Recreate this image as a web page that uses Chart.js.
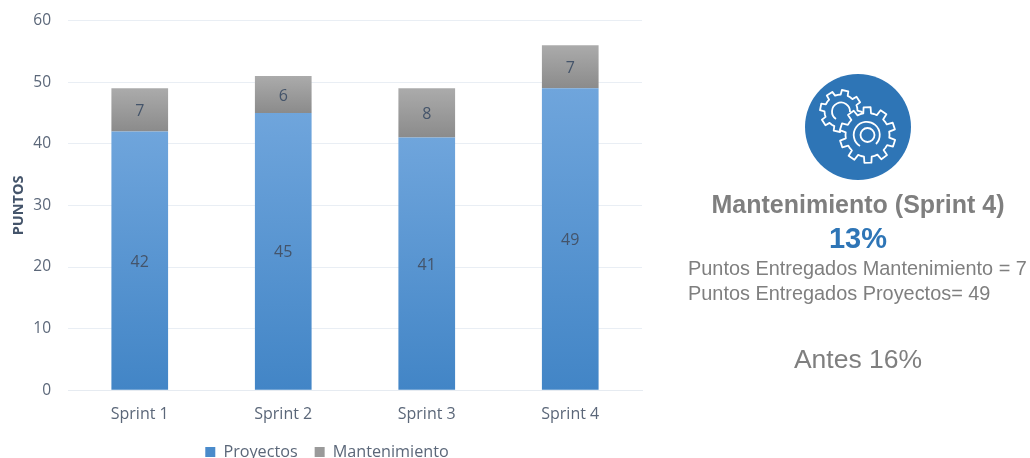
<!DOCTYPE html>
<html>
<head>
<meta charset="utf-8">
<script src="https://cdn.jsdelivr.net/npm/chart.js@4"></script>
<style>
    html, body { margin: 0; padding: 0; background: #fff; width: 1030px; height: 458px; overflow: hidden; }
    #chart_box { position: absolute; left: 0; top: 0; width: 652px; height: 470px; filter: blur(0.5px); }
    .side { position: absolute; font-family: "Liberation Sans", Arial, sans-serif; color: #7f7f7f; white-space: nowrap; filter: blur(0.5px); }
    .mid { left: 658px; width: 400px; text-align: center; }
    #icon { position: absolute; left: 805px; top: 74px; filter: blur(0.5px); }
</style>
</head>
<body>
<div id="chart_box"><canvas id="graph"></canvas></div>

<svg id="icon" width="106" height="106" viewBox="0 0 106 106"></svg>

<div class="side mid" style="top:190px;font-size:25px;font-weight:bold;">Mantenimiento (Sprint 4)</div>
<div class="side mid" style="top:222px;font-size:29px;font-weight:bold;color:#2e75b6;">13%</div>
<div class="side" style="left:688px;top:257px;font-size:19.9px;">Puntos Entregados Mantenimiento = 7</div>
<div class="side" style="left:688px;top:282px;font-size:19.9px;">Puntos Entregados Proyectos= 49</div>
<div class="side mid" style="top:344px;font-size:26.5px;">Antes 16%</div>

<script>
const sprints = [`Sprint 1`, `Sprint 2`, `Sprint 3`, `Sprint 4`]
const proyectos = [42, 45, 41, 49]
const mantenimiento = [7, 6, 8, 7]
const y_ticks = [0, 10, 20, 30, 40, 50, 60]

const text_color = `#5b6779`
const label_font = `"Open Sans", sans-serif`

// same gradient on each bar, from its top to its bottom
function bar_gradient(top_color, bottom_color) {
    return function (context) {
        const chart = context.chart
        if (!chart.chartArea || context.type !== `data`) return bottom_color
        const y = chart.scales.y
        const stacked = context.dataset.stack_base ? context.dataset.stack_base[context.dataIndex] : 0
        const gradient = chart.ctx.createLinearGradient(0, y.getPixelForValue(stacked + context.raw), 0, y.getPixelForValue(stacked))
        gradient.addColorStop(0, top_color)
        gradient.addColorStop(1, bottom_color)
        return gradient
    }
}

const bar_labels = {
    id: `bar_labels`,
    afterDatasetsDraw(chart) {
        const ctx = chart.ctx
        ctx.save()
        ctx.font = `16px ${label_font}`
        ctx.fillStyle = `#44546a`
        ctx.textAlign = `center`
        ctx.textBaseline = `middle`
        chart.data.datasets.forEach((dataset, i) => {
            chart.getDatasetMeta(i).data.forEach((bar, j) => {
                ctx.fillText(dataset.data[j], bar.x, (bar.y + bar.base) / 2 + 1.5)
            })
        })
        ctx.restore()
    }
}

// legend sits a little right of the middle of the plot
const legend_nudge = {
    id: `legend_nudge`,
    afterLayout(chart) {
        chart.legend.left += 6
        chart.legend.right += 6
    }
}

new Chart(document.getElementById(`graph`), {
    type: `bar`,
    data: {
        labels: sprints,
        datasets: [{
            label: `Proyectos`,
            data: proyectos,
            backgroundColor: bar_gradient(`#6fa5dc`, `#4285c6`),
            legend_color: `#4a8bcb`
        }, {
            label: `Mantenimiento`,
            data: mantenimiento,
            stack_base: proyectos,
            backgroundColor: bar_gradient(`#ababab`, `#8b8b8b`),
            legend_color: `#9a9a9a`
        }]
    },
    options: {
        responsive: true,
        maintainAspectRatio: false,
        animation: false,
        layout: { padding: { top: 20.5, right: 10, bottom: 0, left: 0 } },
        datasets: { bar: { barPercentage: 0.79, categoryPercentage: 0.5 } },
        scales: {
            x: {
                stacked: true,
                grid: { display: false },
                border: { color: `#e6ebf1`, width: 1 },
                ticks: { color: text_color, font: { family: label_font, size: 16 }, padding: 6.5 },
                afterFit(scale) { scale.height = 36.5 }
            },
            y: {
                stacked: true,
                min: 0,
                max: 60,
                afterBuildTicks(scale) { scale.ticks = y_ticks.map(value => ({ value })) },
                grid: { color: `#e9eef4`, drawTicks: false },
                border: { display: false },
                ticks: { color: text_color, font: { family: label_font, size: 15.5 }, padding: 17 },
                title: {
                    display: true,
                    text: `PUNTOS`,
                    color: `#44546a`,
                    font: { family: label_font, size: 14.5, weight: `bold` },
                    padding: { top: 10, bottom: 0 }
                },
                afterFit(scale) {
                    scale.width = 68
                    // the top and bottom of the plot come from layout.padding and the x axis
                    scale.paddingTop = 0
                    scale.paddingBottom = 0
                }
            }
        },
        plugins: {
            tooltip: { enabled: false },
            legend: {
                position: `bottom`,
                labels: {
                    color: text_color,
                    font: { family: label_font, size: 16.2 },
                    boxWidth: 10,
                    boxHeight: 10,
                    padding: 17,
                    generateLabels(chart) {
                        return chart.data.datasets.map((dataset, i) => ({
                            text: dataset.label,
                            fillStyle: dataset.legend_color,
                            strokeStyle: dataset.legend_color,
                            lineWidth: 0,
                            fontColor: text_color,
                            datasetIndex: i
                        }))
                    }
                }
            }
        }
    },
    plugins: [bar_labels, legend_nudge]
})

// gear icon on the right
function gear_path(cx, cy, outer, inner, teeth, turn) {
    const step = Math.PI * 2 / teeth
    let path = ``
    for (let tooth = 0; tooth < teeth; tooth++) {
        const a = tooth * step + turn
        const corners = [[-0.5, inner], [-0.28, inner], [-0.2, outer], [0.2, outer], [0.28, inner], [0.5, inner]]
        corners.forEach(([offset, radius]) => {
            const x = cx + radius * Math.cos(a + offset * step)
            const y = cy + radius * Math.sin(a + offset * step)
            path += `${path ? `L` : `M`}${x.toFixed(1)} ${y.toFixed(1)}`
        })
    }
    return path + `Z`
}

const stroke = `fill="none" stroke="#fff" stroke-width="1.8" stroke-linejoin="round"`
document.getElementById(`icon`).innerHTML = `
    <circle cx="53" cy="53" r="53" fill="#2e75b6"/>
    <path d="${gear_path(36, 37, 21, 16.5, 8, 0.2)}" ${stroke}/>
    <path d="M31 45 A9 9 0 1 1 45 38" ${stroke}/>
    <path d="${gear_path(62.5, 61, 28, 22, 10, 0.3)}" fill="#2e75b6" stroke="#fff" stroke-width="1.8" stroke-linejoin="round"/>
    <path d="M55 72 A13 13 0 1 1 71 70" ${stroke}/>
    <circle cx="62.5" cy="61" r="7" ${stroke}/>`
</script>
</body>
</html>
